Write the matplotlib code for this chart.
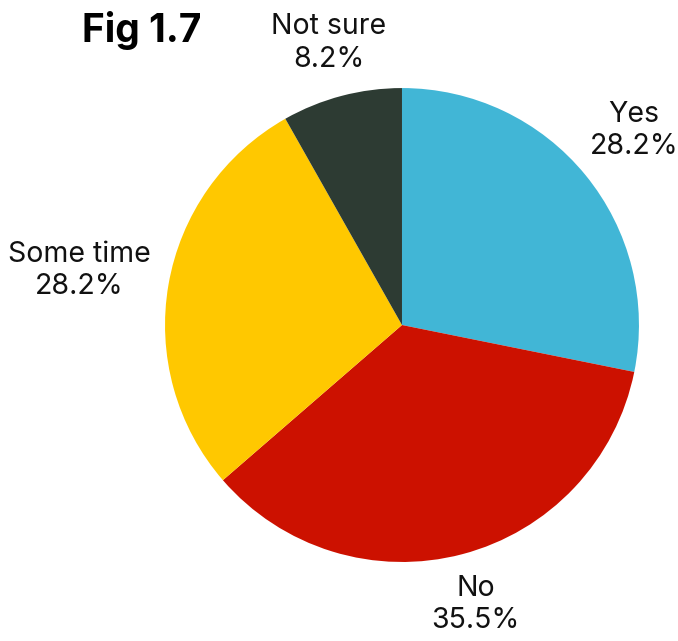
import matplotlib.pyplot as plt

# data
categories = ["Yes", "No", "Some time", "Not sure"]
shares = [28.2, 35.5, 28.2, 8.2]
colors = ["#41B6D6", "#CC1100", "#FFC800", "#2D3B33"]

# label spots (data coords, pie radius = 1)
label_xy = [(0.98, 0.82), (0.31, -1.18), (-1.36, 0.23), (-0.31, 1.19)]

plt.rcParams['font.family'] = ['Inter', 'DejaVu Sans']

fig = plt.figure(figsize=(6.78, 6.41), dpi=100)
ax = fig.add_axes([0.2434, 0.1232, 0.699, 0.7395])

ax.pie(shares, colors=colors, startangle=90, counterclock=False,
       radius=1, wedgeprops=dict(linewidth=0))
ax.set_xlim(-1, 1)
ax.set_ylim(-1, 1)
ax.axis('off')

for cat, val, (x, y) in zip(categories, shares, label_xy):
    ax.text(x, y, f"{cat}\n{val}%", ha='center', va='center',
            fontsize=20.5, linespacing=1.25, clip_on=False, color='#111111')

fig.text(82 / 678, 1 - 30 / 641, "Fig 1.7", fontsize=28, fontweight='bold',
         ha='left', va='center')

fig.savefig("out.png", dpi=100)
